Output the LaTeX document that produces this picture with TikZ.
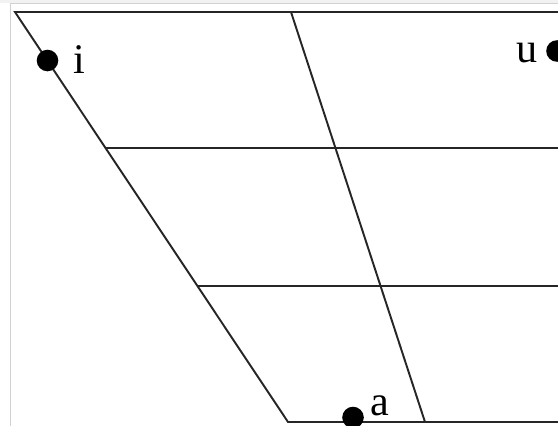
\documentclass[tikz,border=0pt]{standalone}
\usepackage{fontspec}
\setmainfont{Liberation Serif}

\begin{document}
\begin{tikzpicture}[
  x=0.02cm, y=-0.02cm,
  edge/.style={line width=1.1pt, draw=black!85, line cap=round},
  frame/.style={line width=0.9pt, draw=black!18},
  vowel/.style={fill=black},
  vlabel/.style={anchor=base, inner sep=0pt, font=\fontsize{24}{28}\selectfont}
]

\def\rdot{10.8}

\useasboundingbox (0,0) rectangle (558,426);
\clip (0,0) rectangle (558,426);

% Faint frame of the cut-out.
\fill[black!5] (0,0) rectangle (558,3);
\draw[frame] (10.5,426) -- (10.5,3.5) -- (558,3.5);

% Corners of the vowel trapezoid.
\coordinate (fronttop) at (15,12);
\coordinate (frontbot) at (288,422);
\coordinate (midtop) at (291,12);
\coordinate (midbot) at (425,422);

% Outline, central line and the two height lines.
\draw[edge] (575,12) -- (fronttop) -- (frontbot) -- (575,422);
\draw[edge] (midtop) -- (midbot);
\draw[edge] (106,148) -- (575,148);
\draw[edge] (198,286) -- (575,286);

% Cardinal vowels.
\fill[vowel] (47.5,60.5) circle (\rdot);
\node[vlabel] (vi) at (79,73) {i};
\fill[vowel] (557,51) circle (\rdot);
\node[vlabel] (vu) at (527.5,62) {u};
\fill[vowel] (353,417.5) circle (\rdot);
\node[vlabel] (va) at (380,415) {a};

\end{tikzpicture}
\end{document}
